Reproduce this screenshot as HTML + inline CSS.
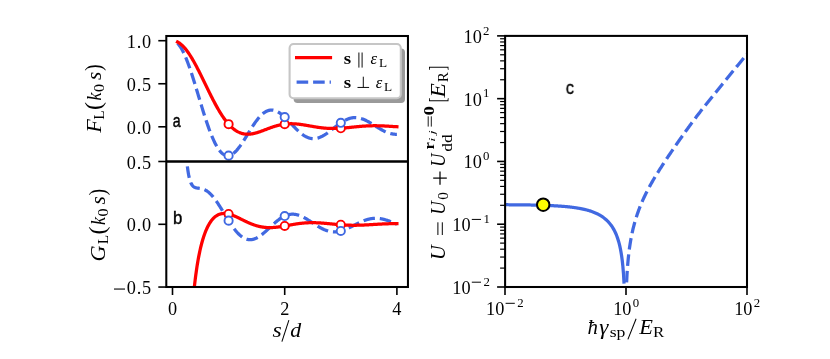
<!DOCTYPE html>
<html><head><meta charset="utf-8"><title>figure</title>
<style>html,body{margin:0;padding:0;background:#fff;}svg{display:block;will-change:transform;}</style></head>
<body>
<svg width="830" height="359" viewBox="0 0 830 359">
<rect width="830" height="359" fill="#fff"/>
<defs>
<clipPath id="ct"><rect x="166.3" y="36.0" width="241.65" height="125.50"/></clipPath>
<clipPath id="cb"><rect x="166.3" y="161.5" width="241.65" height="125.50"/></clipPath>
<clipPath id="cr"><rect x="505.1" y="35.9" width="241.90" height="251.10"/></clipPath>
</defs>
<g clip-path="url(#ct)" fill="none" stroke-width="3.25">
<path d="M177.55,43.26 L178.10,43.84 L178.65,44.48 L179.20,45.18 L179.75,45.93 L180.30,46.73 L180.85,47.60 L181.40,48.51 L181.95,49.48 L182.50,50.50 L183.05,51.57 L183.60,52.68 L184.15,53.85 L184.70,55.06 L185.25,56.31 L185.80,57.61 L186.35,58.95 L186.89,60.34 L187.44,61.76 L187.99,63.22 L188.54,64.71 L189.09,66.24 L189.64,67.80 L190.19,69.39 L190.74,71.01 L191.29,72.66 L191.84,74.33 L192.39,76.02 L192.94,77.74 L193.49,79.48 L194.04,81.23 L194.59,83.00 L195.14,84.79 L195.69,86.59 L196.24,88.39 L196.79,90.21 L197.34,92.03 L197.89,93.86 L198.44,95.69 L198.99,97.52 L199.54,99.34 L200.09,101.17 L200.64,102.99 L201.19,104.80 L201.74,106.60 L202.29,108.40 L202.84,110.18 L203.39,111.94 L203.94,113.69 L204.49,115.43 L205.04,117.14 L205.59,118.83 L206.14,120.50 L206.69,122.14 L207.24,123.76 L207.79,125.35 L208.34,126.91 L208.88,128.44 L209.43,129.94 L209.98,131.41 L210.53,132.84 L211.08,134.23 L211.63,135.59 L212.18,136.91 L212.73,138.19 L213.28,139.44 L213.83,140.64 L214.38,141.79 L214.93,142.91 L215.48,143.98 L216.03,145.01 L216.58,145.99 L217.13,146.93 L217.68,147.82 L218.23,148.66 L218.78,149.46 L219.33,150.21 L219.88,150.91 L220.43,151.56 L220.98,152.17 L221.53,152.72 L222.08,153.23 L222.63,153.69 L223.18,154.10 L223.73,154.47 L224.28,154.78 L224.83,155.05 L225.38,155.27 L225.93,155.44 L226.48,155.57 L227.03,155.65 L227.58,155.68 L228.13,155.67 L228.68,155.62 L229.23,155.52 L229.78,155.38 L230.33,155.20 L230.87,154.97 L231.42,154.71 L231.97,154.40 L232.52,154.06 L233.07,153.68 L233.62,153.26 L234.17,152.81 L234.72,152.32 L235.27,151.80 L235.82,151.25 L236.37,150.67 L236.92,150.06 L237.47,149.42 L238.02,148.76 L238.57,148.07 L239.12,147.36 L239.67,146.62 L240.22,145.86 L240.77,145.09 L241.32,144.29 L241.87,143.48 L242.42,142.65 L242.97,141.81 L243.52,140.96 L244.07,140.09 L244.62,139.22 L245.17,138.33 L245.72,137.44 L246.27,136.55 L246.82,135.65 L247.37,134.75 L247.92,133.85 L248.47,132.95 L249.02,132.05 L249.57,131.16 L250.12,130.27 L250.67,129.38 L251.22,128.51 L251.77,127.64 L252.32,126.78 L252.87,125.93 L253.41,125.10 L253.96,124.28 L254.51,123.47 L255.06,122.68 L255.61,121.90 L256.16,121.15 L256.71,120.41 L257.26,119.69 L257.81,119.00 L258.36,118.32 L258.91,117.67 L259.46,117.04 L260.01,116.43 L260.56,115.85 L261.11,115.29 L261.66,114.76 L262.21,114.26 L262.76,113.78 L263.31,113.33 L263.86,112.91 L264.41,112.52 L264.96,112.16 L265.51,111.82 L266.06,111.52 L266.61,111.24 L267.16,110.99 L267.71,110.77 L268.26,110.58 L268.81,110.43 L269.36,110.30 L269.91,110.20 L270.46,110.13 L271.01,110.09 L271.56,110.07 L272.11,110.09 L272.66,110.13 L273.21,110.21 L273.76,110.31 L274.31,110.43 L274.86,110.59 L275.40,110.77 L275.95,110.97 L276.50,111.20 L277.05,111.46 L277.60,111.74 L278.15,112.04 L278.70,112.36 L279.25,112.71 L279.80,113.07 L280.35,113.46 L280.90,113.86 L281.45,114.28 L282.00,114.72 L282.55,115.18 L283.10,115.65 L283.65,116.14 L284.20,116.64 L284.75,117.15 L285.30,117.68 L285.85,118.21 L286.40,118.76 L286.95,119.31 L287.50,119.87 L288.05,120.44 L288.60,121.02 L289.15,121.60 L289.70,122.18 L290.25,122.76 L290.80,123.35 L291.35,123.94 L291.90,124.52 L292.45,125.11 L293.00,125.69 L293.55,126.27 L294.10,126.85 L294.65,127.42 L295.20,127.98 L295.75,128.54 L296.30,129.09 L296.85,129.63 L297.39,130.17 L297.94,130.69 L298.49,131.20 L299.04,131.69 L299.59,132.18 L300.14,132.65 L300.69,133.11 L301.24,133.55 L301.79,133.98 L302.34,134.39 L302.89,134.79 L303.44,135.17 L303.99,135.53 L304.54,135.87 L305.09,136.19 L305.64,136.50 L306.19,136.79 L306.74,137.05 L307.29,137.30 L307.84,137.52 L308.39,137.73 L308.94,137.92 L309.49,138.08 L310.04,138.22 L310.59,138.35 L311.14,138.45 L311.69,138.53 L312.24,138.59 L312.79,138.63 L313.34,138.64 L313.89,138.64 L314.44,138.62 L314.99,138.57 L315.54,138.51 L316.09,138.43 L316.64,138.32 L317.19,138.20 L317.74,138.06 L318.29,137.90 L318.84,137.72 L319.38,137.52 L319.93,137.31 L320.48,137.08 L321.03,136.84 L321.58,136.57 L322.13,136.30 L322.68,136.01 L323.23,135.70 L323.78,135.38 L324.33,135.05 L324.88,134.71 L325.43,134.35 L325.98,133.99 L326.53,133.61 L327.08,133.23 L327.63,132.83 L328.18,132.43 L328.73,132.02 L329.28,131.61 L329.83,131.19 L330.38,130.77 L330.93,130.34 L331.48,129.90 L332.03,129.47 L332.58,129.03 L333.13,128.60 L333.68,128.16 L334.23,127.72 L334.78,127.29 L335.33,126.86 L335.88,126.42 L336.43,126.00 L336.98,125.57 L337.53,125.16 L338.08,124.74 L338.63,124.34 L339.18,123.94 L339.73,123.55 L340.28,123.17 L340.83,122.79 L341.38,122.43 L341.92,122.07 L342.47,121.73 L343.02,121.39 L343.57,121.07 L344.12,120.76 L344.67,120.46 L345.22,120.18 L345.77,119.91 L346.32,119.65 L346.87,119.41 L347.42,119.18 L347.97,118.97 L348.52,118.77 L349.07,118.58 L349.62,118.42 L350.17,118.26 L350.72,118.13 L351.27,118.01 L351.82,117.90 L352.37,117.81 L352.92,117.74 L353.47,117.69 L354.02,117.65 L354.57,117.62 L355.12,117.62 L355.67,117.63 L356.22,117.65 L356.77,117.69 L357.32,117.75 L357.87,117.82 L358.42,117.91 L358.97,118.01 L359.52,118.13 L360.07,118.26 L360.62,118.41 L361.17,118.57 L361.72,118.74 L362.27,118.93 L362.82,119.13 L363.37,119.34 L363.91,119.57 L364.46,119.80 L365.01,120.05 L365.56,120.30 L366.11,120.57 L366.66,120.85 L367.21,121.13 L367.76,121.42 L368.31,121.73 L368.86,122.03 L369.41,122.35 L369.96,122.67 L370.51,123.00 L371.06,123.33 L371.61,123.66 L372.16,124.00 L372.71,124.34 L373.26,124.69 L373.81,125.04 L374.36,125.38 L374.91,125.73 L375.46,126.08 L376.01,126.43 L376.56,126.78 L377.11,127.12 L377.66,127.46 L378.21,127.80 L378.76,128.14 L379.31,128.47 L379.86,128.80 L380.41,129.12 L380.96,129.44 L381.51,129.75 L382.06,130.05 L382.61,130.34 L383.16,130.63 L383.71,130.91 L384.26,131.18 L384.81,131.45 L385.36,131.70 L385.90,131.94 L386.45,132.17 L387.00,132.39 L387.55,132.61 L388.10,132.80 L388.65,132.99 L389.20,133.17 L389.75,133.33 L390.30,133.48 L390.85,133.62 L391.40,133.75 L391.95,133.86 L392.50,133.96 L393.05,134.05 L393.60,134.13 L394.15,134.19 L394.70,134.24 L395.25,134.27 L395.80,134.29 L396.35,134.30 L396.90,134.29" stroke="#4169e1" stroke-dasharray="11.6,4.9"/>
<path d="M177.55,41.98 L178.10,42.28 L178.65,42.60 L179.20,42.95 L179.75,43.33 L180.30,43.74 L180.85,44.17 L181.40,44.64 L181.95,45.13 L182.50,45.65 L183.05,46.20 L183.60,46.77 L184.15,47.37 L184.70,47.99 L185.25,48.64 L185.80,49.32 L186.35,50.01 L186.89,50.74 L187.44,51.48 L187.99,52.25 L188.54,53.04 L189.09,53.85 L189.64,54.68 L190.19,55.53 L190.74,56.40 L191.29,57.29 L191.84,58.20 L192.39,59.12 L192.94,60.07 L193.49,61.03 L194.04,62.00 L194.59,62.99 L195.14,63.99 L195.69,65.01 L196.24,66.04 L196.79,67.08 L197.34,68.13 L197.89,69.19 L198.44,70.27 L198.99,71.35 L199.54,72.44 L200.09,73.54 L200.64,74.64 L201.19,75.75 L201.74,76.87 L202.29,77.99 L202.84,79.11 L203.39,80.24 L203.94,81.37 L204.49,82.50 L205.04,83.63 L205.59,84.76 L206.14,85.90 L206.69,87.03 L207.24,88.16 L207.79,89.28 L208.34,90.40 L208.88,91.52 L209.43,92.63 L209.98,93.74 L210.53,94.84 L211.08,95.94 L211.63,97.03 L212.18,98.10 L212.73,99.18 L213.28,100.24 L213.83,101.29 L214.38,102.33 L214.93,103.36 L215.48,104.38 L216.03,105.39 L216.58,106.38 L217.13,107.36 L217.68,108.33 L218.23,109.28 L218.78,110.22 L219.33,111.15 L219.88,112.06 L220.43,112.95 L220.98,113.83 L221.53,114.69 L222.08,115.53 L222.63,116.36 L223.18,117.17 L223.73,117.96 L224.28,118.74 L224.83,119.50 L225.38,120.23 L225.93,120.95 L226.48,121.65 L227.03,122.33 L227.58,123.00 L228.13,123.64 L228.68,124.26 L229.23,124.87 L229.78,125.45 L230.33,126.02 L230.87,126.56 L231.42,127.09 L231.97,127.59 L232.52,128.08 L233.07,128.54 L233.62,128.99 L234.17,129.42 L234.72,129.82 L235.27,130.21 L235.82,130.58 L236.37,130.93 L236.92,131.26 L237.47,131.57 L238.02,131.86 L238.57,132.14 L239.12,132.39 L239.67,132.63 L240.22,132.85 L240.77,133.05 L241.32,133.24 L241.87,133.41 L242.42,133.56 L242.97,133.69 L243.52,133.81 L244.07,133.92 L244.62,134.00 L245.17,134.07 L245.72,134.13 L246.27,134.17 L246.82,134.20 L247.37,134.22 L247.92,134.22 L248.47,134.21 L249.02,134.18 L249.57,134.15 L250.12,134.10 L250.67,134.04 L251.22,133.97 L251.77,133.88 L252.32,133.79 L252.87,133.69 L253.41,133.58 L253.96,133.46 L254.51,133.33 L255.06,133.20 L255.61,133.05 L256.16,132.90 L256.71,132.74 L257.26,132.58 L257.81,132.41 L258.36,132.23 L258.91,132.05 L259.46,131.87 L260.01,131.68 L260.56,131.49 L261.11,131.29 L261.66,131.09 L262.21,130.89 L262.76,130.68 L263.31,130.47 L263.86,130.27 L264.41,130.06 L264.96,129.85 L265.51,129.64 L266.06,129.43 L266.61,129.22 L267.16,129.01 L267.71,128.80 L268.26,128.59 L268.81,128.38 L269.36,128.18 L269.91,127.98 L270.46,127.78 L271.01,127.58 L271.56,127.39 L272.11,127.20 L272.66,127.01 L273.21,126.83 L273.76,126.65 L274.31,126.47 L274.86,126.30 L275.40,126.13 L275.95,125.97 L276.50,125.82 L277.05,125.66 L277.60,125.52 L278.15,125.38 L278.70,125.24 L279.25,125.11 L279.80,124.98 L280.35,124.86 L280.90,124.75 L281.45,124.64 L282.00,124.54 L282.55,124.45 L283.10,124.36 L283.65,124.27 L284.20,124.20 L284.75,124.13 L285.30,124.06 L285.85,124.00 L286.40,123.95 L286.95,123.90 L287.50,123.86 L288.05,123.82 L288.60,123.80 L289.15,123.77 L289.70,123.75 L290.25,123.74 L290.80,123.74 L291.35,123.73 L291.90,123.74 L292.45,123.75 L293.00,123.76 L293.55,123.78 L294.10,123.81 L294.65,123.84 L295.20,123.87 L295.75,123.91 L296.30,123.96 L296.85,124.00 L297.39,124.06 L297.94,124.11 L298.49,124.17 L299.04,124.23 L299.59,124.30 L300.14,124.37 L300.69,124.44 L301.24,124.52 L301.79,124.60 L302.34,124.68 L302.89,124.76 L303.44,124.85 L303.99,124.94 L304.54,125.02 L305.09,125.12 L305.64,125.21 L306.19,125.30 L306.74,125.40 L307.29,125.49 L307.84,125.59 L308.39,125.69 L308.94,125.78 L309.49,125.88 L310.04,125.98 L310.59,126.08 L311.14,126.18 L311.69,126.27 L312.24,126.37 L312.79,126.46 L313.34,126.56 L313.89,126.65 L314.44,126.75 L314.99,126.84 L315.54,126.93 L316.09,127.02 L316.64,127.10 L317.19,127.19 L317.74,127.27 L318.29,127.35 L318.84,127.43 L319.38,127.50 L319.93,127.58 L320.48,127.65 L321.03,127.72 L321.58,127.78 L322.13,127.85 L322.68,127.91 L323.23,127.97 L323.78,128.02 L324.33,128.07 L324.88,128.12 L325.43,128.17 L325.98,128.21 L326.53,128.25 L327.08,128.29 L327.63,128.32 L328.18,128.35 L328.73,128.38 L329.28,128.40 L329.83,128.42 L330.38,128.44 L330.93,128.46 L331.48,128.47 L332.03,128.48 L332.58,128.48 L333.13,128.48 L333.68,128.48 L334.23,128.48 L334.78,128.47 L335.33,128.46 L335.88,128.45 L336.43,128.44 L336.98,128.42 L337.53,128.40 L338.08,128.38 L338.63,128.35 L339.18,128.32 L339.73,128.29 L340.28,128.26 L340.83,128.23 L341.38,128.19 L341.92,128.15 L342.47,128.11 L343.02,128.07 L343.57,128.02 L344.12,127.98 L344.67,127.93 L345.22,127.88 L345.77,127.83 L346.32,127.78 L346.87,127.73 L347.42,127.68 L347.97,127.62 L348.52,127.57 L349.07,127.51 L349.62,127.46 L350.17,127.40 L350.72,127.35 L351.27,127.29 L351.82,127.23 L352.37,127.17 L352.92,127.12 L353.47,127.06 L354.02,127.00 L354.57,126.95 L355.12,126.89 L355.67,126.83 L356.22,126.78 L356.77,126.73 L357.32,126.67 L357.87,126.62 L358.42,126.57 L358.97,126.52 L359.52,126.47 L360.07,126.42 L360.62,126.37 L361.17,126.33 L361.72,126.28 L362.27,126.24 L362.82,126.20 L363.37,126.16 L363.91,126.12 L364.46,126.08 L365.01,126.05 L365.56,126.01 L366.11,125.98 L366.66,125.95 L367.21,125.92 L367.76,125.90 L368.31,125.87 L368.86,125.85 L369.41,125.83 L369.96,125.81 L370.51,125.80 L371.06,125.78 L371.61,125.77 L372.16,125.76 L372.71,125.75 L373.26,125.74 L373.81,125.74 L374.36,125.73 L374.91,125.73 L375.46,125.73 L376.01,125.74 L376.56,125.74 L377.11,125.75 L377.66,125.76 L378.21,125.77 L378.76,125.78 L379.31,125.79 L379.86,125.81 L380.41,125.82 L380.96,125.84 L381.51,125.86 L382.06,125.88 L382.61,125.91 L383.16,125.93 L383.71,125.95 L384.26,125.98 L384.81,126.01 L385.36,126.04 L385.90,126.07 L386.45,126.10 L387.00,126.13 L387.55,126.16 L388.10,126.20 L388.65,126.23 L389.20,126.26 L389.75,126.30 L390.30,126.33 L390.85,126.37 L391.40,126.41 L391.95,126.45 L392.50,126.48 L393.05,126.52 L393.60,126.56 L394.15,126.60 L394.70,126.63 L395.25,126.67 L395.80,126.71 L396.35,126.74 L396.90,126.78" stroke="#ff0000" stroke-linejoin="round" stroke-linecap="square"/>
<circle cx="228.60" cy="124.18" r="4.1" fill="#fff" stroke="#ff0000" stroke-width="1.9"/>
<circle cx="228.60" cy="155.63" r="4.1" fill="#fff" stroke="#4169e1" stroke-width="1.9"/>
<circle cx="284.70" cy="124.13" r="4.1" fill="#fff" stroke="#ff0000" stroke-width="1.9"/>
<circle cx="284.70" cy="117.11" r="4.1" fill="#fff" stroke="#4169e1" stroke-width="1.9"/>
<circle cx="340.80" cy="128.23" r="4.1" fill="#fff" stroke="#ff0000" stroke-width="1.9"/>
<circle cx="340.80" cy="122.81" r="4.1" fill="#fff" stroke="#4169e1" stroke-width="1.9"/>
</g>
<g clip-path="url(#cb)" fill="none" stroke-width="3.25">
<path d="M183.72,102.71 L184.08,113.50 L184.43,122.86 L184.79,131.01 L185.14,138.12 L185.50,144.34 L185.86,149.78 L186.21,154.55 L186.57,158.74 L186.92,162.42 L187.28,165.65 L187.63,168.50 L187.99,171.00 L188.35,173.21 L188.70,175.15 L189.06,176.86 L189.41,178.36 L189.77,179.68 L190.13,180.84 L190.48,181.86 L190.84,182.75 L191.19,183.52 L191.55,184.20 L191.91,184.79 L192.26,185.30 L192.62,185.75 L192.97,186.13 L193.33,186.46 L193.69,186.75 L194.04,186.99 L194.40,187.20 L194.75,187.37 L195.11,187.52 L195.46,187.65 L195.82,187.75 L196.18,187.84 L196.53,187.92 L196.89,187.98 L197.24,188.04 L197.60,188.09 L197.96,188.14 L198.31,188.18 L198.67,188.22 L199.02,188.27 L199.38,188.31 L199.74,188.36 L200.09,188.41 L200.45,188.46 L200.80,188.52 L201.16,188.59 L201.51,188.67 L201.87,188.75 L202.23,188.84 L202.58,188.94 L202.94,189.05 L203.29,189.17 L203.65,189.30 L204.01,189.44 L204.36,189.59 L204.72,189.75 L205.07,189.93 L205.43,190.11 L205.79,190.31 L206.14,190.52 L206.50,190.74 L206.85,190.97 L207.21,191.21 L207.56,191.47 L207.92,191.74 L208.28,192.02 L208.63,192.31 L208.99,192.61 L209.34,192.92 L209.70,193.25 L210.06,193.58 L210.41,193.93 L210.77,194.29 L211.12,194.66 L211.48,195.04 L211.84,195.43 L212.19,195.83 L212.55,196.24 L212.90,196.66 L213.26,197.09 L213.62,197.53 L213.97,197.98 L214.33,198.44 L214.68,198.91 L215.04,199.38 L215.39,199.87 L215.75,200.36 L216.11,200.86 L216.46,201.36 L216.82,201.87 L217.17,202.39 L217.53,202.92 L217.89,203.45 L218.24,203.99 L218.60,204.53 L218.95,205.08 L219.31,205.63 L219.67,206.19 L220.02,206.75 L220.38,207.31 L220.73,207.88 L221.09,208.45 L221.44,209.03 L221.80,209.60 L222.16,210.18 L222.51,210.76 L222.87,211.35 L223.22,211.93 L223.58,212.51 L223.94,213.10 L224.29,213.68 L224.65,214.27 L225.00,214.85 L225.36,215.44 L225.72,216.02 L226.07,216.60 L226.43,217.18 L226.78,217.76 L227.14,218.33 L227.49,218.91 L227.85,219.48 L228.21,220.04 L228.56,220.61 L228.92,221.16 L229.27,221.72 L229.63,222.27 L229.99,222.82 L230.34,223.36 L230.70,223.89 L231.05,224.42 L231.41,224.95 L231.77,225.46 L232.12,225.98 L232.48,226.48 L232.83,226.98 L233.19,227.47 L233.55,227.96 L233.90,228.43 L234.26,228.90 L234.61,229.36 L234.97,229.82 L235.32,230.26 L235.68,230.70 L236.04,231.12 L236.39,231.54 L236.75,231.95 L237.10,232.35 L237.46,232.74 L237.82,233.12 L238.17,233.50 L238.53,233.86 L238.88,234.21 L239.24,234.55 L239.60,234.88 L239.95,235.20 L240.31,235.51 L240.66,235.81 L241.02,236.10 L241.37,236.38 L241.73,236.65 L242.09,236.90 L242.44,237.15 L242.80,237.38 L243.15,237.60 L243.51,237.82 L243.87,238.02 L244.22,238.20 L244.58,238.38 L244.93,238.55 L245.29,238.70 L245.65,238.85 L246.00,238.98 L246.36,239.10 L246.71,239.21 L247.07,239.31 L247.42,239.40 L247.78,239.47 L248.14,239.54 L248.49,239.59 L248.85,239.63 L249.20,239.67 L249.56,239.69 L249.92,239.70 L250.27,239.69 L250.63,239.68 L250.98,239.66 L251.34,239.63 L251.70,239.58 L252.05,239.53 L252.41,239.47 L252.76,239.39 L253.12,239.31 L253.48,239.22 L253.83,239.11 L254.19,239.00 L254.54,238.88 L254.90,238.75 L255.25,238.60 L255.61,238.45 L255.97,238.30 L256.32,238.13 L256.68,237.95 L257.03,237.77 L257.39,237.58 L257.75,237.38 L258.10,237.17 L258.46,236.96 L258.81,236.74 L259.17,236.51 L259.53,236.27 L259.88,236.03 L260.24,235.78 L260.59,235.53 L260.95,235.27 L261.30,235.00 L261.66,234.73 L262.02,234.45 L262.37,234.17 L262.73,233.88 L263.08,233.59 L263.44,233.29 L263.80,232.99 L264.15,232.69 L264.51,232.38 L264.86,232.07 L265.22,231.75 L265.58,231.44 L265.93,231.12 L266.29,230.79 L266.64,230.47 L267.00,230.14 L267.35,229.81 L267.71,229.48 L268.07,229.15 L268.42,228.82 L268.78,228.48 L269.13,228.15 L269.49,227.81 L269.85,227.48 L270.20,227.14 L270.56,226.81 L270.91,226.47 L271.27,226.14 L271.63,225.81 L271.98,225.48 L272.34,225.15 L272.69,224.82 L273.05,224.49 L273.41,224.17 L273.76,223.85 L274.12,223.53 L274.47,223.21 L274.83,222.90 L275.18,222.58 L275.54,222.28 L275.90,221.97 L276.25,221.67 L276.61,221.38 L276.96,221.08 L277.32,220.80 L277.68,220.51 L278.03,220.23 L278.39,219.96 L278.74,219.69 L279.10,219.43 L279.46,219.17 L279.81,218.91 L280.17,218.66 L280.52,218.42 L280.88,218.19 L281.23,217.95 L281.59,217.73 L281.95,217.51 L282.30,217.30 L282.66,217.09 L283.01,216.89 L283.37,216.70 L283.73,216.51 L284.08,216.33 L284.44,216.16 L284.79,215.99 L285.15,215.84 L285.51,215.68 L285.86,215.54 L286.22,215.40 L286.57,215.27 L286.93,215.15 L287.28,215.03 L287.64,214.93 L288.00,214.82 L288.35,214.73 L288.71,214.65 L289.06,214.57 L289.42,214.50 L289.78,214.43 L290.13,214.38 L290.49,214.33 L290.84,214.29 L291.20,214.25 L291.56,214.23 L291.91,214.21 L292.27,214.20 L292.62,214.20 L292.98,214.20 L293.34,214.21 L293.69,214.23 L294.05,214.25 L294.40,214.29 L294.76,214.33 L295.11,214.37 L295.47,214.43 L295.83,214.49 L296.18,214.55 L296.54,214.63 L296.89,214.71 L297.25,214.80 L297.61,214.89 L297.96,214.99 L298.32,215.10 L298.67,215.21 L299.03,215.33 L299.39,215.45 L299.74,215.58 L300.10,215.71 L300.45,215.85 L300.81,216.00 L301.16,216.15 L301.52,216.31 L301.88,216.47 L302.23,216.64 L302.59,216.81 L302.94,216.98 L303.30,217.16 L303.66,217.35 L304.01,217.53 L304.37,217.73 L304.72,217.92 L305.08,218.12 L305.44,218.33 L305.79,218.53 L306.15,218.74 L306.50,218.95 L306.86,219.17 L307.21,219.39 L307.57,219.61 L307.93,219.83 L308.28,220.05 L308.64,220.28 L308.99,220.51 L309.35,220.74 L309.71,220.97 L310.06,221.20 L310.42,221.43 L310.77,221.67 L311.13,221.90 L311.49,222.14 L311.84,222.38 L312.20,222.61 L312.55,222.85 L312.91,223.09 L313.27,223.32 L313.62,223.56 L313.98,223.79 L314.33,224.03 L314.69,224.26 L315.04,224.49 L315.40,224.72 L315.76,224.95 L316.11,225.18 L316.47,225.41 L316.82,225.63 L317.18,225.85 L317.54,226.07 L317.89,226.29 L318.25,226.50 L318.60,226.72 L318.96,226.93 L319.32,227.13 L319.67,227.34 L320.03,227.54 L320.38,227.73 L320.74,227.93 L321.09,228.12 L321.45,228.30 L321.81,228.49 L322.16,228.67 L322.52,228.84 L322.87,229.01 L323.23,229.18 L323.59,229.34 L323.94,229.50 L324.30,229.65 L324.65,229.80 L325.01,229.94 L325.37,230.08 L325.72,230.22 L326.08,230.34 L326.43,230.47 L326.79,230.59 L327.14,230.70 L327.50,230.81 L327.86,230.91 L328.21,231.01 L328.57,231.10 L328.92,231.19 L329.28,231.27 L329.64,231.35 L329.99,231.42 L330.35,231.49 L330.70,231.55 L331.06,231.60 L331.42,231.65 L331.77,231.69 L332.13,231.73 L332.48,231.76 L332.84,231.79 L333.20,231.81 L333.55,231.83 L333.91,231.83 L334.26,231.84 L334.62,231.84 L334.97,231.83 L335.33,231.82 L335.69,231.80 L336.04,231.78 L336.40,231.75 L336.75,231.71 L337.11,231.67 L337.47,231.63 L337.82,231.58 L338.18,231.52 L338.53,231.46 L338.89,231.40 L339.25,231.33 L339.60,231.25 L339.96,231.17 L340.31,231.09 L340.67,231.00 L341.02,230.91 L341.38,230.81 L341.74,230.71 L342.09,230.60 L342.45,230.49 L342.80,230.38 L343.16,230.26 L343.52,230.13 L343.87,230.01 L344.23,229.88 L344.58,229.74 L344.94,229.61 L345.30,229.47 L345.65,229.32 L346.01,229.18 L346.36,229.03 L346.72,228.87 L347.07,228.72 L347.43,228.56 L347.79,228.40 L348.14,228.24 L348.50,228.07 L348.85,227.90 L349.21,227.73 L349.57,227.56 L349.92,227.39 L350.28,227.22 L350.63,227.04 L350.99,226.86 L351.35,226.68 L351.70,226.51 L352.06,226.32 L352.41,226.14 L352.77,225.96 L353.13,225.78 L353.48,225.60 L353.84,225.41 L354.19,225.23 L354.55,225.05 L354.90,224.87 L355.26,224.68 L355.62,224.50 L355.97,224.32 L356.33,224.14 L356.68,223.96 L357.04,223.78 L357.40,223.60 L357.75,223.42 L358.11,223.25 L358.46,223.07 L358.82,222.90 L359.18,222.73 L359.53,222.56 L359.89,222.40 L360.24,222.23 L360.60,222.07 L360.95,221.91 L361.31,221.75 L361.67,221.59 L362.02,221.44 L362.38,221.29 L362.73,221.14 L363.09,220.99 L363.45,220.85 L363.80,220.71 L364.16,220.58 L364.51,220.45 L364.87,220.32 L365.23,220.19 L365.58,220.07 L365.94,219.95 L366.29,219.83 L366.65,219.72 L367.00,219.61 L367.36,219.51 L367.72,219.41 L368.07,219.31 L368.43,219.22 L368.78,219.13 L369.14,219.05 L369.50,218.97 L369.85,218.90 L370.21,218.82 L370.56,218.76 L370.92,218.70 L371.28,218.64 L371.63,218.58 L371.99,218.53 L372.34,218.49 L372.70,218.45 L373.06,218.41 L373.41,218.38 L373.77,218.35 L374.12,218.33 L374.48,218.31 L374.83,218.30 L375.19,218.29 L375.55,218.28 L375.90,218.28 L376.26,218.29 L376.61,218.30 L376.97,218.31 L377.33,218.33 L377.68,218.35 L378.04,218.37 L378.39,218.40 L378.75,218.44 L379.11,218.48 L379.46,218.52 L379.82,218.57 L380.17,218.62 L380.53,218.67 L380.88,218.73 L381.24,218.79 L381.60,218.86 L381.95,218.93 L382.31,219.00 L382.66,219.08 L383.02,219.16 L383.38,219.25 L383.73,219.34 L384.09,219.43 L384.44,219.52 L384.80,219.62 L385.16,219.72 L385.51,219.83 L385.87,219.93 L386.22,220.05 L386.58,220.16 L386.93,220.27 L387.29,220.39 L387.65,220.51 L388.00,220.64 L388.36,220.76 L388.71,220.89 L389.07,221.02 L389.43,221.15 L389.78,221.28 L390.14,221.42 L390.49,221.56 L390.85,221.69 L391.21,221.83 L391.56,221.98 L391.92,222.12 L392.27,222.26 L392.63,222.41 L392.99,222.55 L393.34,222.70 L393.70,222.85 L394.05,223.00 L394.41,223.14 L394.76,223.29 L395.12,223.44 L395.48,223.59 L395.83,223.74 L396.19,223.89 L396.54,224.04 L396.90,224.19" stroke="#4169e1" stroke-dasharray="11.6,4.9" stroke-dashoffset="2.2"/>
<path d="M183.72,600.80 L184.08,579.90 L184.43,552.77 L184.79,528.47 L185.14,506.61 L185.50,486.88 L185.86,469.02 L186.21,452.78 L186.57,437.99 L186.92,424.47 L187.28,412.08 L187.63,400.70 L187.99,390.21 L188.35,380.52 L188.70,371.56 L189.06,363.24 L189.41,355.51 L189.77,348.32 L190.13,341.60 L190.48,335.32 L190.84,329.44 L191.19,323.92 L191.55,318.74 L191.91,313.86 L192.26,309.26 L192.62,304.92 L192.97,300.82 L193.33,296.94 L193.69,293.26 L194.04,289.78 L194.40,286.47 L194.75,283.32 L195.11,280.33 L195.46,277.47 L195.82,274.75 L196.18,272.16 L196.53,269.68 L196.89,267.31 L197.24,265.05 L197.60,262.88 L197.96,260.81 L198.31,258.82 L198.67,256.91 L199.02,255.08 L199.38,253.32 L199.74,251.63 L200.09,250.01 L200.45,248.45 L200.80,246.96 L201.16,245.51 L201.51,244.13 L201.87,242.79 L202.23,241.51 L202.58,240.27 L202.94,239.08 L203.29,237.93 L203.65,236.82 L204.01,235.76 L204.36,234.73 L204.72,233.74 L205.07,232.79 L205.43,231.87 L205.79,230.98 L206.14,230.13 L206.50,229.30 L206.85,228.51 L207.21,227.75 L207.56,227.01 L207.92,226.30 L208.28,225.62 L208.63,224.97 L208.99,224.34 L209.34,223.73 L209.70,223.15 L210.06,222.58 L210.41,222.05 L210.77,221.53 L211.12,221.03 L211.48,220.56 L211.84,220.10 L212.19,219.66 L212.55,219.25 L212.90,218.85 L213.26,218.46 L213.62,218.10 L213.97,217.75 L214.33,217.42 L214.68,217.11 L215.04,216.81 L215.39,216.52 L215.75,216.25 L216.11,216.00 L216.46,215.76 L216.82,215.53 L217.17,215.32 L217.53,215.12 L217.89,214.93 L218.24,214.76 L218.60,214.60 L218.95,214.45 L219.31,214.31 L219.67,214.19 L220.02,214.07 L220.38,213.97 L220.73,213.87 L221.09,213.79 L221.44,213.72 L221.80,213.65 L222.16,213.60 L222.51,213.55 L222.87,213.52 L223.22,213.49 L223.58,213.48 L223.94,213.47 L224.29,213.46 L224.65,213.47 L225.00,213.49 L225.36,213.51 L225.72,213.54 L226.07,213.58 L226.43,213.62 L226.78,213.67 L227.14,213.73 L227.49,213.79 L227.85,213.86 L228.21,213.93 L228.56,214.01 L228.92,214.10 L229.27,214.19 L229.63,214.29 L229.99,214.39 L230.34,214.50 L230.70,214.61 L231.05,214.73 L231.41,214.85 L231.77,214.97 L232.12,215.10 L232.48,215.23 L232.83,215.36 L233.19,215.50 L233.55,215.64 L233.90,215.79 L234.26,215.94 L234.61,216.09 L234.97,216.24 L235.32,216.40 L235.68,216.56 L236.04,216.72 L236.39,216.88 L236.75,217.04 L237.10,217.21 L237.46,217.38 L237.82,217.55 L238.17,217.72 L238.53,217.89 L238.88,218.06 L239.24,218.23 L239.60,218.41 L239.95,218.58 L240.31,218.76 L240.66,218.94 L241.02,219.11 L241.37,219.29 L241.73,219.47 L242.09,219.64 L242.44,219.82 L242.80,219.99 L243.15,220.17 L243.51,220.35 L243.87,220.52 L244.22,220.69 L244.58,220.87 L244.93,221.04 L245.29,221.21 L245.65,221.38 L246.00,221.55 L246.36,221.72 L246.71,221.89 L247.07,222.05 L247.42,222.22 L247.78,222.38 L248.14,222.54 L248.49,222.70 L248.85,222.86 L249.20,223.01 L249.56,223.17 L249.92,223.32 L250.27,223.47 L250.63,223.61 L250.98,223.76 L251.34,223.90 L251.70,224.04 L252.05,224.18 L252.41,224.32 L252.76,224.45 L253.12,224.58 L253.48,224.71 L253.83,224.84 L254.19,224.96 L254.54,225.08 L254.90,225.20 L255.25,225.32 L255.61,225.43 L255.97,225.54 L256.32,225.65 L256.68,225.75 L257.03,225.85 L257.39,225.95 L257.75,226.05 L258.10,226.14 L258.46,226.23 L258.81,226.32 L259.17,226.40 L259.53,226.48 L259.88,226.56 L260.24,226.64 L260.59,226.71 L260.95,226.78 L261.30,226.85 L261.66,226.91 L262.02,226.97 L262.37,227.03 L262.73,227.09 L263.08,227.14 L263.44,227.19 L263.80,227.23 L264.15,227.28 L264.51,227.32 L264.86,227.36 L265.22,227.39 L265.58,227.42 L265.93,227.45 L266.29,227.48 L266.64,227.50 L267.00,227.52 L267.35,227.54 L267.71,227.56 L268.07,227.57 L268.42,227.58 L268.78,227.59 L269.13,227.59 L269.49,227.60 L269.85,227.60 L270.20,227.60 L270.56,227.59 L270.91,227.58 L271.27,227.57 L271.63,227.56 L271.98,227.55 L272.34,227.53 L272.69,227.52 L273.05,227.50 L273.41,227.47 L273.76,227.45 L274.12,227.42 L274.47,227.39 L274.83,227.36 L275.18,227.33 L275.54,227.30 L275.90,227.26 L276.25,227.23 L276.61,227.19 L276.96,227.15 L277.32,227.10 L277.68,227.06 L278.03,227.02 L278.39,226.97 L278.74,226.92 L279.10,226.87 L279.46,226.82 L279.81,226.77 L280.17,226.72 L280.52,226.66 L280.88,226.61 L281.23,226.55 L281.59,226.50 L281.95,226.44 L282.30,226.38 L282.66,226.32 L283.01,226.26 L283.37,226.20 L283.73,226.14 L284.08,226.08 L284.44,226.01 L284.79,225.95 L285.15,225.89 L285.51,225.82 L285.86,225.76 L286.22,225.70 L286.57,225.63 L286.93,225.57 L287.28,225.50 L287.64,225.44 L288.00,225.37 L288.35,225.31 L288.71,225.24 L289.06,225.18 L289.42,225.11 L289.78,225.05 L290.13,224.98 L290.49,224.92 L290.84,224.86 L291.20,224.79 L291.56,224.73 L291.91,224.67 L292.27,224.61 L292.62,224.54 L292.98,224.48 L293.34,224.42 L293.69,224.36 L294.05,224.30 L294.40,224.24 L294.76,224.19 L295.11,224.13 L295.47,224.07 L295.83,224.02 L296.18,223.96 L296.54,223.91 L296.89,223.86 L297.25,223.81 L297.61,223.75 L297.96,223.70 L298.32,223.66 L298.67,223.61 L299.03,223.56 L299.39,223.51 L299.74,223.47 L300.10,223.43 L300.45,223.38 L300.81,223.34 L301.16,223.30 L301.52,223.26 L301.88,223.23 L302.23,223.19 L302.59,223.15 L302.94,223.12 L303.30,223.09 L303.66,223.06 L304.01,223.03 L304.37,223.00 L304.72,222.97 L305.08,222.94 L305.44,222.92 L305.79,222.89 L306.15,222.87 L306.50,222.85 L306.86,222.83 L307.21,222.81 L307.57,222.79 L307.93,222.78 L308.28,222.76 L308.64,222.75 L308.99,222.74 L309.35,222.72 L309.71,222.71 L310.06,222.71 L310.42,222.70 L310.77,222.69 L311.13,222.69 L311.49,222.69 L311.84,222.68 L312.20,222.68 L312.55,222.68 L312.91,222.68 L313.27,222.69 L313.62,222.69 L313.98,222.70 L314.33,222.70 L314.69,222.71 L315.04,222.72 L315.40,222.73 L315.76,222.74 L316.11,222.75 L316.47,222.76 L316.82,222.77 L317.18,222.79 L317.54,222.80 L317.89,222.82 L318.25,222.84 L318.60,222.86 L318.96,222.88 L319.32,222.90 L319.67,222.92 L320.03,222.94 L320.38,222.96 L320.74,222.98 L321.09,223.01 L321.45,223.03 L321.81,223.06 L322.16,223.09 L322.52,223.11 L322.87,223.14 L323.23,223.17 L323.59,223.20 L323.94,223.23 L324.30,223.26 L324.65,223.29 L325.01,223.32 L325.37,223.35 L325.72,223.38 L326.08,223.41 L326.43,223.44 L326.79,223.48 L327.14,223.51 L327.50,223.54 L327.86,223.58 L328.21,223.61 L328.57,223.64 L328.92,223.68 L329.28,223.71 L329.64,223.75 L329.99,223.78 L330.35,223.82 L330.70,223.85 L331.06,223.88 L331.42,223.92 L331.77,223.95 L332.13,223.99 L332.48,224.02 L332.84,224.06 L333.20,224.09 L333.55,224.13 L333.91,224.16 L334.26,224.19 L334.62,224.23 L334.97,224.26 L335.33,224.29 L335.69,224.33 L336.04,224.36 L336.40,224.39 L336.75,224.42 L337.11,224.45 L337.47,224.48 L337.82,224.52 L338.18,224.55 L338.53,224.58 L338.89,224.60 L339.25,224.63 L339.60,224.66 L339.96,224.69 L340.31,224.72 L340.67,224.74 L341.02,224.77 L341.38,224.80 L341.74,224.82 L342.09,224.84 L342.45,224.87 L342.80,224.89 L343.16,224.91 L343.52,224.94 L343.87,224.96 L344.23,224.98 L344.58,225.00 L344.94,225.02 L345.30,225.04 L345.65,225.05 L346.01,225.07 L346.36,225.09 L346.72,225.10 L347.07,225.12 L347.43,225.13 L347.79,225.15 L348.14,225.16 L348.50,225.17 L348.85,225.18 L349.21,225.19 L349.57,225.20 L349.92,225.21 L350.28,225.22 L350.63,225.23 L350.99,225.24 L351.35,225.24 L351.70,225.25 L352.06,225.25 L352.41,225.26 L352.77,225.26 L353.13,225.26 L353.48,225.26 L353.84,225.26 L354.19,225.26 L354.55,225.26 L354.90,225.26 L355.26,225.26 L355.62,225.26 L355.97,225.25 L356.33,225.25 L356.68,225.25 L357.04,225.24 L357.40,225.23 L357.75,225.23 L358.11,225.22 L358.46,225.21 L358.82,225.20 L359.18,225.20 L359.53,225.19 L359.89,225.18 L360.24,225.16 L360.60,225.15 L360.95,225.14 L361.31,225.13 L361.67,225.12 L362.02,225.10 L362.38,225.09 L362.73,225.07 L363.09,225.06 L363.45,225.04 L363.80,225.03 L364.16,225.01 L364.51,224.99 L364.87,224.98 L365.23,224.96 L365.58,224.94 L365.94,224.92 L366.29,224.91 L366.65,224.89 L367.00,224.87 L367.36,224.85 L367.72,224.83 L368.07,224.81 L368.43,224.79 L368.78,224.77 L369.14,224.75 L369.50,224.73 L369.85,224.71 L370.21,224.69 L370.56,224.66 L370.92,224.64 L371.28,224.62 L371.63,224.60 L371.99,224.58 L372.34,224.56 L372.70,224.54 L373.06,224.51 L373.41,224.49 L373.77,224.47 L374.12,224.45 L374.48,224.43 L374.83,224.41 L375.19,224.38 L375.55,224.36 L375.90,224.34 L376.26,224.32 L376.61,224.30 L376.97,224.28 L377.33,224.26 L377.68,224.24 L378.04,224.22 L378.39,224.20 L378.75,224.18 L379.11,224.16 L379.46,224.14 L379.82,224.12 L380.17,224.10 L380.53,224.08 L380.88,224.06 L381.24,224.04 L381.60,224.03 L381.95,224.01 L382.31,223.99 L382.66,223.98 L383.02,223.96 L383.38,223.94 L383.73,223.93 L384.09,223.91 L384.44,223.90 L384.80,223.88 L385.16,223.87 L385.51,223.85 L385.87,223.84 L386.22,223.83 L386.58,223.82 L386.93,223.80 L387.29,223.79 L387.65,223.78 L388.00,223.77 L388.36,223.76 L388.71,223.75 L389.07,223.74 L389.43,223.73 L389.78,223.73 L390.14,223.72 L390.49,223.71 L390.85,223.70 L391.21,223.70 L391.56,223.69 L391.92,223.69 L392.27,223.68 L392.63,223.68 L392.99,223.67 L393.34,223.67 L393.70,223.67 L394.05,223.66 L394.41,223.66 L394.76,223.66 L395.12,223.66 L395.48,223.66 L395.83,223.66 L396.19,223.66 L396.54,223.66 L396.90,223.66" stroke="#ff0000" stroke-linejoin="round" stroke-linecap="square"/>
<circle cx="228.60" cy="214.02" r="4.1" fill="#fff" stroke="#ff0000" stroke-width="1.9"/>
<circle cx="228.60" cy="220.67" r="4.1" fill="#fff" stroke="#4169e1" stroke-width="1.9"/>
<circle cx="284.70" cy="225.97" r="4.1" fill="#fff" stroke="#ff0000" stroke-width="1.9"/>
<circle cx="284.70" cy="216.04" r="4.1" fill="#fff" stroke="#4169e1" stroke-width="1.9"/>
<circle cx="340.80" cy="224.75" r="4.1" fill="#fff" stroke="#ff0000" stroke-width="1.9"/>
<circle cx="340.80" cy="230.97" r="4.1" fill="#fff" stroke="#4169e1" stroke-width="1.9"/>
</g>
<g clip-path="url(#cr)" fill="none" stroke-width="3.25" stroke="#4169e1">
<path d="M505.00,204.72 L505.60,204.73 L506.20,204.73 L506.79,204.73 L507.39,204.74 L507.99,204.74 L508.59,204.75 L509.19,204.75 L509.79,204.75 L510.38,204.76 L510.98,204.76 L511.58,204.77 L512.18,204.77 L512.78,204.78 L513.38,204.78 L513.97,204.79 L514.57,204.79 L515.17,204.80 L515.77,204.80 L516.37,204.81 L516.97,204.81 L517.56,204.82 L518.16,204.83 L518.76,204.83 L519.36,204.84 L519.96,204.85 L520.56,204.85 L521.15,204.86 L521.75,204.87 L522.35,204.87 L522.95,204.88 L523.55,204.89 L524.15,204.90 L524.74,204.91 L525.34,204.91 L525.94,204.92 L526.54,204.93 L527.14,204.94 L527.74,204.95 L528.33,204.96 L528.93,204.97 L529.53,204.98 L530.13,204.99 L530.73,205.00 L531.33,205.01 L531.92,205.02 L532.52,205.04 L533.12,205.05 L533.72,205.06 L534.32,205.07 L534.92,205.09 L535.51,205.10 L536.11,205.11 L536.71,205.13 L537.31,205.14 L537.91,205.16 L538.51,205.17 L539.10,205.19 L539.70,205.20 L540.30,205.22 L540.90,205.24 L541.50,205.25 L542.10,205.27 L542.69,205.29 L543.29,205.31 L543.89,205.33 L544.49,205.35 L545.09,205.37 L545.69,205.39 L546.28,205.41 L546.88,205.44 L547.48,205.46 L548.08,205.48 L548.68,205.51 L549.28,205.53 L549.87,205.56 L550.47,205.59 L551.07,205.61 L551.67,205.64 L552.27,205.67 L552.87,205.70 L553.46,205.73 L554.06,205.76 L554.66,205.79 L555.26,205.83 L555.86,205.86 L556.46,205.89 L557.05,205.93 L557.65,205.97 L558.25,206.01 L558.85,206.04 L559.45,206.09 L560.05,206.13 L560.64,206.17 L561.24,206.21 L561.84,206.26 L562.44,206.30 L563.04,206.35 L563.64,206.40 L564.23,206.45 L564.83,206.50 L565.43,206.56 L566.03,206.61 L566.63,206.67 L567.22,206.73 L567.82,206.79 L568.42,206.85 L569.02,206.91 L569.62,206.98 L570.22,207.04 L570.81,207.11 L571.41,207.18 L572.01,207.26 L572.61,207.33 L573.21,207.41 L573.81,207.49 L574.40,207.57 L575.00,207.66 L575.60,207.75 L576.20,207.84 L576.80,207.93 L577.40,208.03 L577.99,208.13 L578.59,208.23 L579.19,208.33 L579.79,208.44 L580.39,208.55 L580.99,208.67 L581.58,208.79 L582.18,208.91 L582.78,209.04 L583.38,209.17 L583.98,209.30 L584.58,209.44 L585.17,209.58 L585.77,209.73 L586.37,209.89 L586.97,210.04 L587.57,210.21 L588.17,210.38 L588.76,210.55 L589.36,210.73 L589.96,210.92 L590.56,211.11 L591.16,211.31 L591.76,211.52 L592.35,211.73 L592.95,211.95 L593.55,212.18 L594.15,212.42 L594.75,212.66 L595.35,212.92 L595.94,213.18 L596.54,213.46 L597.14,213.74 L597.74,214.03 L598.34,214.34 L598.94,214.66 L599.53,214.99 L600.13,215.33 L600.73,215.69 L601.33,216.06 L601.93,216.45 L602.53,216.85 L603.12,217.28 L603.72,217.72 L604.32,218.17 L604.92,218.65 L605.52,219.16 L606.12,219.68 L606.71,220.23 L607.31,220.81 L607.91,221.41 L608.51,222.05 L609.11,222.71 L609.71,223.42 L610.30,224.16 L610.90,224.94 L611.50,225.77 L612.10,226.65 L612.70,227.58 L613.30,228.58 L613.89,229.63 L614.49,230.76 L615.09,231.98 L615.69,233.28 L616.29,234.69 L616.89,236.21 L617.48,237.88 L618.08,239.69 L618.68,241.70 L619.28,243.92 L619.88,246.41 L620.48,249.22 L621.07,252.46 L621.67,256.23 L622.27,260.74 L622.87,266.30 L623.47,273.52 L624.06,283.69"/>
<path d="M626.42,286.42 L627.03,273.99 L627.64,265.29 L628.24,258.55 L628.85,253.01 L629.45,248.29 L630.06,244.17 L630.67,240.50 L631.27,237.18 L631.88,234.15 L632.48,231.35 L633.09,228.74 L633.70,226.30 L634.30,224.00 L634.91,221.83 L635.51,219.76 L636.12,217.79 L636.73,215.90 L637.33,214.08 L637.94,212.34 L638.54,210.66 L639.15,209.03 L639.75,207.45 L640.36,205.92 L640.97,204.44 L641.57,202.99 L642.18,201.58 L642.78,200.20 L643.39,198.85 L644.00,197.53 L644.60,196.24 L645.21,194.98 L645.81,193.74 L646.42,192.52 L647.03,191.32 L647.63,190.14 L648.24,188.98 L648.84,187.84 L649.45,186.72 L650.06,185.61 L650.66,184.51 L651.27,183.43 L651.87,182.36 L652.48,181.31 L653.08,180.27 L653.69,179.24 L654.30,178.21 L654.90,177.20 L655.51,176.20 L656.11,175.21 L656.72,174.23 L657.33,173.26 L657.93,172.28 L658.54,171.32 L659.14,170.36 L659.75,169.40 L660.36,168.45 L660.96,167.51 L661.57,166.56 L662.17,165.62 L662.78,164.69 L663.39,163.76 L663.99,162.83 L664.60,161.91 L665.20,160.99 L665.81,160.07 L666.41,159.16 L667.02,158.24 L667.63,157.34 L668.23,156.43 L668.84,155.53 L669.44,154.62 L670.05,153.73 L670.66,152.83 L671.26,151.94 L671.87,151.05 L672.47,150.16 L673.08,149.27 L673.69,148.39 L674.29,147.50 L674.90,146.62 L675.50,145.75 L676.11,144.87 L676.71,144.00 L677.32,143.12 L677.93,142.25 L678.53,141.39 L679.14,140.52 L679.74,139.66 L680.35,138.80 L680.96,137.94 L681.56,137.08 L682.17,136.22 L682.77,135.37 L683.38,134.52 L683.99,133.67 L684.59,132.82 L685.20,131.98 L685.80,131.13 L686.41,130.29 L687.02,129.46 L687.62,128.62 L688.23,127.79 L688.83,126.95 L689.44,126.12 L690.04,125.30 L690.65,124.47 L691.26,123.65 L691.86,122.83 L692.47,122.01 L693.07,121.20 L693.68,120.38 L694.29,119.57 L694.89,118.77 L695.50,117.96 L696.10,117.16 L696.71,116.36 L697.32,115.56 L697.92,114.77 L698.53,113.98 L699.13,113.19 L699.74,112.41 L700.35,111.62 L700.95,110.84 L701.56,110.07 L702.16,109.30 L702.77,108.53 L703.37,107.76 L703.98,107.00 L704.59,106.24 L705.19,105.48 L705.80,104.72 L706.40,103.97 L707.01,103.21 L707.62,102.46 L708.22,101.70 L708.83,100.95 L709.43,100.19 L710.04,99.44 L710.65,98.69 L711.25,97.93 L711.86,97.18 L712.46,96.43 L713.07,95.68 L713.68,94.93 L714.28,94.18 L714.89,93.43 L715.49,92.68 L716.10,91.93 L716.70,91.18 L717.31,90.43 L717.92,89.69 L718.52,88.94 L719.13,88.19 L719.73,87.45 L720.34,86.70 L720.95,85.95 L721.55,85.21 L722.16,84.46 L722.76,83.71 L723.37,82.97 L723.98,82.22 L724.58,81.48 L725.19,80.74 L725.79,79.99 L726.40,79.25 L727.01,78.50 L727.61,77.76 L728.22,77.02 L728.82,76.27 L729.43,75.53 L730.03,74.79 L730.64,74.05 L731.25,73.30 L731.85,72.56 L732.46,71.82 L733.06,71.08 L733.67,70.34 L734.28,69.59 L734.88,68.85 L735.49,68.11 L736.09,67.37 L736.70,66.63 L737.31,65.89 L737.91,65.15 L738.52,64.41 L739.12,63.67 L739.73,62.93 L740.34,62.19 L740.94,61.45 L741.55,60.71 L742.15,59.97 L742.76,59.23 L743.36,58.49 L743.97,57.75 L744.58,57.01 L745.18,56.27 L745.79,55.53 L746.39,54.79 L747.00,54.05" stroke-dasharray="11.6,4.9" stroke-dashoffset="-4"/>
</g>
<circle cx="543.2" cy="204.7" r="6.2" fill="#ffff00" stroke="#000" stroke-width="2"/>
<g fill="none" stroke="#000" stroke-width="2.05">
<rect x="166.3" y="36.0" width="241.65" height="251.00"/>
<line x1="166.3" x2="407.95" y1="161.5" y2="161.5" stroke-width="2.7"/>
<rect x="505.1" y="35.9" width="241.90" height="251.10"/>
</g>
<g stroke="#000" stroke-width="1.6">
<line x1="158.30" x2="166.3" y1="40.70" y2="40.70"/>
<line x1="158.30" x2="166.3" y1="83.75" y2="83.75"/>
<line x1="158.30" x2="166.3" y1="126.80" y2="126.80"/>
<line x1="158.30" x2="166.3" y1="224.30" y2="224.30"/>
<line x1="158.30" x2="166.3" y1="287.05" y2="287.05"/>
<line x1="158.30" x2="166.3" y1="161.5" y2="161.5"/>
<line x1="172.50" x2="172.50" y1="287.0" y2="295.00"/>
<line x1="284.70" x2="284.70" y1="287.0" y2="295.00"/>
<line x1="396.90" x2="396.90" y1="287.0" y2="295.00"/>
<line x1="497.10" x2="505.1" y1="287.00" y2="287.00"/>
<line x1="497.10" x2="505.1" y1="224.22" y2="224.22"/>
<line x1="497.10" x2="505.1" y1="161.44" y2="161.44"/>
<line x1="497.10" x2="505.1" y1="98.66" y2="98.66"/>
<line x1="497.10" x2="505.1" y1="35.88" y2="35.88"/>
<line x1="505.00" x2="505.00" y1="287.0" y2="295.00"/>
<line x1="626.00" x2="626.00" y1="287.0" y2="295.00"/>
<line x1="747.00" x2="747.00" y1="287.0" y2="295.00"/>
</g>
<g stroke="#000" stroke-width="1.2">
<line x1="500.10" x2="505.1" y1="268.10" y2="268.10"/>
<line x1="500.10" x2="505.1" y1="257.05" y2="257.05"/>
<line x1="500.10" x2="505.1" y1="249.20" y2="249.20"/>
<line x1="500.10" x2="505.1" y1="243.12" y2="243.12"/>
<line x1="500.10" x2="505.1" y1="238.15" y2="238.15"/>
<line x1="500.10" x2="505.1" y1="233.94" y2="233.94"/>
<line x1="500.10" x2="505.1" y1="230.30" y2="230.30"/>
<line x1="500.10" x2="505.1" y1="227.09" y2="227.09"/>
<line x1="500.10" x2="505.1" y1="205.32" y2="205.32"/>
<line x1="500.10" x2="505.1" y1="194.27" y2="194.27"/>
<line x1="500.10" x2="505.1" y1="186.42" y2="186.42"/>
<line x1="500.10" x2="505.1" y1="180.34" y2="180.34"/>
<line x1="500.10" x2="505.1" y1="175.37" y2="175.37"/>
<line x1="500.10" x2="505.1" y1="171.16" y2="171.16"/>
<line x1="500.10" x2="505.1" y1="167.52" y2="167.52"/>
<line x1="500.10" x2="505.1" y1="164.31" y2="164.31"/>
<line x1="500.10" x2="505.1" y1="142.54" y2="142.54"/>
<line x1="500.10" x2="505.1" y1="131.49" y2="131.49"/>
<line x1="500.10" x2="505.1" y1="123.64" y2="123.64"/>
<line x1="500.10" x2="505.1" y1="117.56" y2="117.56"/>
<line x1="500.10" x2="505.1" y1="112.59" y2="112.59"/>
<line x1="500.10" x2="505.1" y1="108.38" y2="108.38"/>
<line x1="500.10" x2="505.1" y1="104.74" y2="104.74"/>
<line x1="500.10" x2="505.1" y1="101.53" y2="101.53"/>
<line x1="500.10" x2="505.1" y1="79.76" y2="79.76"/>
<line x1="500.10" x2="505.1" y1="68.71" y2="68.71"/>
<line x1="500.10" x2="505.1" y1="60.86" y2="60.86"/>
<line x1="500.10" x2="505.1" y1="54.78" y2="54.78"/>
<line x1="500.10" x2="505.1" y1="49.81" y2="49.81"/>
<line x1="500.10" x2="505.1" y1="45.60" y2="45.60"/>
<line x1="500.10" x2="505.1" y1="41.96" y2="41.96"/>
<line x1="500.10" x2="505.1" y1="38.75" y2="38.75"/>
</g>
<g font-family="Liberation Serif, serif" font-size="18.3" fill="#000" opacity="0.999">
<text x="152.0" y="47.80" text-anchor="end" letter-spacing="0.8">1.0</text>
<text x="152.0" y="90.85" text-anchor="end" letter-spacing="0.8">0.5</text>
<text x="152.0" y="133.90" text-anchor="end" letter-spacing="0.8">0.0</text>
<text x="152.0" y="168.70" text-anchor="end" letter-spacing="0.8">0.5</text>
<text x="152.0" y="231.40" text-anchor="end" letter-spacing="0.8">0.0</text>
<text x="152.0" y="294.05" text-anchor="end" letter-spacing="0.8">0.5</text>
<line x1="114" x2="125" y1="289.05" y2="289.05" stroke="#000" stroke-width="1.1"/>
<text x="172.50" y="315.0" text-anchor="middle">0</text>
<text x="284.70" y="315.0" text-anchor="middle">2</text>
<text x="396.90" y="315.0" text-anchor="middle">4</text>
<text transform="translate(272.51,336.70) scale(1.129,1)" font-size="21" font-style="italic" >s</text>
<line x1="281.9" y1="341.7" x2="288.9" y2="320.1" stroke="#000" stroke-width="1.05"/>
<text transform="translate(290.19,336.70) scale(1.042,1)" font-size="21" font-style="italic" >d</text>
<text x="489.80" y="285.70" text-anchor="end" font-size="12.8">2</text>
<line x1="471.80" x2="481.00" y1="282.20" y2="282.20" stroke="#000" stroke-width="1"/>
<text x="470.60" y="294.00" text-anchor="end">10</text>
<text x="489.80" y="222.92" text-anchor="end" font-size="12.8">1</text>
<line x1="471.80" x2="481.00" y1="219.42" y2="219.42" stroke="#000" stroke-width="1"/>
<text x="470.60" y="231.22" text-anchor="end">10</text>
<text x="489.50" y="160.14" text-anchor="end" font-size="12.8">0</text>
<text x="481.80" y="168.44" text-anchor="end">10</text>
<text x="489.50" y="97.36" text-anchor="end" font-size="12.8">1</text>
<text x="481.80" y="105.66" text-anchor="end">10</text>
<text x="489.50" y="34.58" text-anchor="end" font-size="12.8">2</text>
<text x="481.80" y="42.88" text-anchor="end">10</text>
<text x="523.60" y="306.80" text-anchor="end" font-size="12.8">2</text>
<line x1="505.60" x2="514.80" y1="303.30" y2="303.30" stroke="#000" stroke-width="1"/>
<text x="504.40" y="315.10" text-anchor="end">10</text>
<text x="639.20" y="306.80" text-anchor="end" font-size="12.8">0</text>
<text x="631.50" y="315.10" text-anchor="end">10</text>
<text x="760.20" y="306.80" text-anchor="end" font-size="12.8">2</text>
<text x="752.50" y="315.10" text-anchor="end">10</text>
<text transform="translate(587.62,334.40) scale(0.997,1)" font-size="21" font-style="italic" >ħ</text>
<text transform="translate(599.22,334.40) scale(1.078,1)" font-size="21.5" font-style="italic" >γ</text>
<text transform="translate(609.64,336.50) scale(1.204,1)" font-size="14.7"  >sp</text>
<line x1="627.9" y1="339.4" x2="636.1" y2="318.7" stroke="#000" stroke-width="1.05"/>
<text transform="translate(639.30,334.40) scale(1.043,1)" font-size="21.5" font-style="italic" >E</text>
<text transform="translate(653.11,337.40) scale(1.151,1)" font-size="14.7"  >R</text>
<g transform="rotate(-90)">
<text transform="translate(-132.63,100.90) scale(1.026,1)" font-size="21.5" font-style="italic" >F</text>
<text transform="translate(-119.86,103.90) scale(1.046,1)" font-size="14.7"  >L</text>
<text transform="translate(-110.11,100.90) scale(1.047,1)" font-size="23"  >(</text>
<text transform="translate(-100.41,100.90) scale(0.855,1)" font-size="21" font-style="italic" >k</text>
<text transform="translate(-91.93,103.90) scale(1.098,1)" font-size="14.7"  >0</text>
<text transform="translate(-79.96,100.90) scale(1.007,1)" font-size="21" font-style="italic" >s</text>
<text transform="translate(-70.82,100.90) scale(0.819,1)" font-size="23"  >)</text>
<text transform="translate(-261.56,105.00) scale(1.036,1)" font-size="21.5" font-style="italic" >G</text>
<text transform="translate(-244.36,108.00) scale(1.046,1)" font-size="14.7"  >L</text>
<text transform="translate(-234.61,105.00) scale(1.047,1)" font-size="23"  >(</text>
<text transform="translate(-224.91,105.00) scale(0.855,1)" font-size="21" font-style="italic" >k</text>
<text transform="translate(-216.43,108.00) scale(1.098,1)" font-size="14.7"  >0</text>
<text transform="translate(-204.46,105.00) scale(1.007,1)" font-size="21" font-style="italic" >s</text>
<text transform="translate(-195.32,105.00) scale(0.819,1)" font-size="23"  >)</text>
<text transform="translate(-259.88,444.90) scale(0.944,1)" font-size="21.5" font-style="italic" >U</text>
<line x1="-235" x2="-222.3" y1="437.9" y2="437.9" stroke="#000" stroke-width="1.0"/>
<line x1="-235" x2="-222.3" y1="442.3" y2="442.3" stroke="#000" stroke-width="1.0"/>
<text transform="translate(-214.83,444.90) scale(0.870,1)" font-size="21.5" font-style="italic" >U</text>
<text transform="translate(-199.81,448.40) scale(1.036,1)" font-size="14.7"  >0</text>
<line x1="-184.8" x2="-171.4" y1="440.0" y2="440.0" stroke="#000" stroke-width="1.25"/>
<line x1="-178.1" x2="-178.1" y1="433.2" y2="446.8" stroke="#000" stroke-width="1.25"/>
<text transform="translate(-166.68,444.90) scale(0.843,1)" font-size="21.5" font-style="italic" >U</text>
<text transform="translate(-151.68,452.20) scale(1.190,1)" font-size="14.7"  >dd</text>
<text transform="translate(-149.59,433.70) scale(1.086,1)" font-size="15.5" font-weight="bold" >r</text>
<text transform="translate(-141.98,435.00) scale(1.833,1)" font-size="9" font-style="italic" >i</text>
<text transform="translate(-134.39,435.00) scale(1.682,1)" font-size="9" font-style="italic" >j</text>
<line x1="-126.6" x2="-116.3" y1="428.2" y2="428.2" stroke="#000" stroke-width="0.9"/>
<line x1="-126.6" x2="-116.3" y1="431.3" y2="431.3" stroke="#000" stroke-width="0.9"/>
<text transform="translate(-115.62,433.90) scale(1.256,1)" font-size="15.2" font-weight="bold" >0</text>
<text transform="translate(-102.52,444.90) scale(0.662,1)" font-size="23"  >[</text>
<text transform="translate(-97.48,444.90) scale(1.095,1)" font-size="21.5" font-style="italic" >E</text>
<text transform="translate(-82.25,448.40) scale(1.026,1)" font-size="14.7"  >R</text>
<text transform="translate(-70.49,444.90) scale(0.643,1)" font-size="23"  >]</text>
</g>
</g>
<g font-family="Liberation Sans, sans-serif" font-size="19" fill="#000" opacity="0.999">
<text transform="translate(172.78,127.40) scale(0.749,1)" font-size="19" font-family="Liberation Sans, sans-serif" stroke="#000" stroke-width="0.45">a</text>
<text transform="translate(173.05,224.00) scale(0.881,1)" font-size="19" font-family="Liberation Sans, sans-serif" stroke="#000" stroke-width="0.45">b</text>
<text transform="translate(565.80,93.90) scale(0.861,1)" font-size="19" font-family="Liberation Sans, sans-serif" stroke="#000" stroke-width="0.45">c</text>
</g>
<rect x="293.6" y="48.6" width="111.4" height="54.4" rx="4" fill="#9a9a9a"/>
<rect x="289.6" y="44.0" width="111.2" height="54.2" rx="4" fill="#fff" stroke="#c6c6c6" stroke-width="2.1"/>
<line x1="295" x2="332.1" y1="57.6" y2="57.6" stroke="#ff0000" stroke-width="3.25"/>
<line x1="296.6" x2="330.9" y1="82" y2="82" stroke="#4169e1" stroke-width="3.25" stroke-dasharray="11.6,4.9"/>
<g font-family="Liberation Serif, serif" fill="#000" opacity="0.999">
<text x="343.7" y="63.7" font-weight="bold" font-size="17.4" textLength="7.4" lengthAdjust="spacingAndGlyphs">s</text>
<text x="370.6" y="64.0" font-style="italic" font-size="16.6">ε</text>
<text x="378.90000000000003" y="66.9" font-size="13.3">L</text>
<text x="343.7" y="88.0" font-weight="bold" font-size="17.4" textLength="7.4" lengthAdjust="spacingAndGlyphs">s</text>
<text x="375.7" y="88.3" font-style="italic" font-size="16.6">ε</text>
<text x="384.0" y="91.2" font-size="13.3">L</text>
<g stroke="#000" stroke-width="0.95">
<line x1="358.9" x2="358.9" y1="52.5" y2="67.6"/><line x1="362.1" x2="362.1" y1="52.5" y2="67.6"/>
<line x1="357.5" x2="369.1" y1="87.45" y2="87.45"/><line x1="363.3" x2="363.3" y1="76.7" y2="87.4"/>
</g>
</g>
</svg>
</body></html>
